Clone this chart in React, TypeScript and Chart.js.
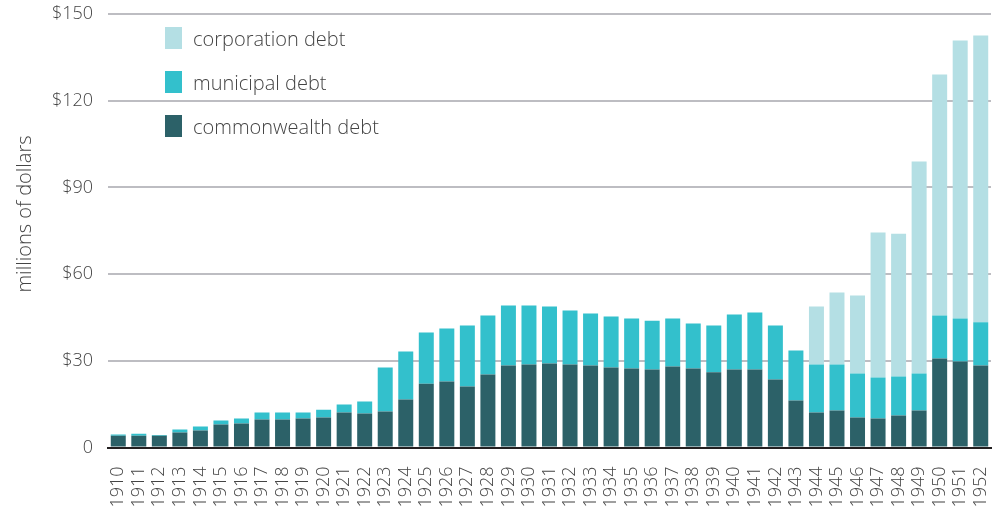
import React, { useEffect, useRef } from "react";
import { Chart, registerables } from "chart.js";

Chart.register(...registerables);

const years = [
  "1910", "1911", "1912", "1913", "1914", "1915", "1916", "1917", "1918", "1919",
  "1920", "1921", "1922", "1923", "1924", "1925", "1926", "1927", "1928", "1929",
  "1930", "1931", "1932", "1933", "1934", "1935", "1936", "1937", "1938", "1939",
  "1940", "1941", "1942", "1943", "1944", "1945", "1946", "1947", "1948", "1949",
  "1950", "1951", "1952",
];

const commonwealthDebt = [
  4.1, 4.1, 4.1, 5.2, 5.9, 8.0, 8.3, 9.7, 9.7, 10.0,
  10.4, 12.1, 11.8, 12.5, 16.6, 22.1, 22.8, 21.1, 25.3, 28.4,
  28.7, 29.1, 28.7, 28.4, 27.7, 27.3, 27.0, 28.0, 27.3, 26.0,
  27.0, 27.0, 23.5, 16.3, 12.1, 12.8, 10.4, 10.0, 11.1, 12.8,
  30.8, 29.8, 28.4,
];

const municipalDebt = [
  0.4, 0.7, 0.2, 1.0, 1.4, 1.3, 1.7, 2.4, 2.4, 2.1,
  2.7, 2.8, 4.1, 15.2, 16.6, 17.7, 18.4, 21.1, 20.4, 20.7,
  20.4, 19.7, 18.7, 18.0, 17.6, 17.3, 16.9, 16.6, 15.6, 16.2,
  19.0, 19.7, 18.7, 17.3, 16.6, 15.9, 15.2, 14.2, 13.5, 12.8,
  14.9, 14.8, 14.9,
];

const corporationDebt = [
  0, 0, 0, 0, 0, 0, 0, 0, 0, 0,
  0, 0, 0, 0, 0, 0, 0, 0, 0, 0,
  0, 0, 0, 0, 0, 0, 0, 0, 0, 0,
  0, 0, 0, 0, 20.1, 24.9, 27.0, 50.2, 49.4, 73.4,
  83.4, 96.2, 99.3,
];

const yTicks = [0, 30, 60, 90, 120, 150];
const yTitle = "millions of dollars";

const COLORS = {
  commonwealth: "#2c6168",
  municipal: "#33c0cc",
  corporation: "#b4dfe4",
};

const legendItems = [
  { label: "corporation debt", color: COLORS.corporation },
  { label: "municipal debt", color: COLORS.municipal },
  { label: "commonwealth debt", color: COLORS.commonwealth },
];

const FONT = '"Open Sans", sans-serif';
const TEXT = "#444444";

export default function App() {
  const canvasRef = useRef<HTMLCanvasElement | null>(null);

  useEffect(() => {
    if (!canvasRef.current) return;
    const yTitlePlugin = {
      id: "yTitle",
      afterDraw(chart: any) {
        const ctx = chart.ctx;
        ctx.save();
        ctx.translate(25, 214);
        ctx.rotate(-Math.PI / 2);
        ctx.textAlign = "center";
        ctx.textBaseline = "middle";
        ctx.font = `300 20px ${FONT}`;
        ctx.fillStyle = TEXT;
        ctx.fillText(yTitle, 0, 0);
        ctx.restore();
      },
    };
    const chart = new Chart(canvasRef.current, {
      type: "bar",
      data: {
        labels: years,
        datasets: [
          {
            label: "commonwealth debt",
            data: commonwealthDebt,
            backgroundColor: COLORS.commonwealth,
            barPercentage: 0.73,
            categoryPercentage: 1,
          },
          {
            label: "municipal debt",
            data: municipalDebt,
            backgroundColor: COLORS.municipal,
            barPercentage: 0.73,
            categoryPercentage: 1,
          },
          {
            label: "corporation debt",
            data: corporationDebt,
            backgroundColor: COLORS.corporation,
            barPercentage: 0.73,
            categoryPercentage: 1,
          },
        ],
      },
      options: {
        animation: false,
        responsive: true,
        maintainAspectRatio: false,
        layout: { padding: { top: 14, right: 1, left: 0, bottom: 0 } },
        plugins: {
          legend: { display: false },
          tooltip: { enabled: false },
          title: { display: false },
        },
        scales: {
          x: {
            stacked: true,
            grid: { display: false, drawTicks: false },
            border: { display: true, color: "#231f20", width: 2 },
            ticks: {
              autoSkip: false,
              maxRotation: 90,
              minRotation: 90,
              padding: 19,
              color: TEXT,
              font: { family: FONT, size: 18, weight: "300" as any },
            },
            afterFit(scale: any) {
              scale.height = 62.5;
              scale.paddingLeft = 0;
              scale.paddingRight = 0;
            },
          },
          y: {
            stacked: true,
            min: 0,
            max: 150,
            afterBuildTicks(scale: any) {
              scale.ticks = yTicks.map((v) => ({ value: v }));
            },
            grid: {
              color: "#bdbdc2",
              lineWidth: 2,
              drawTicks: false,
            },
            border: { display: false },
            ticks: {
              padding: 15,
              color: TEXT,
              font: { family: FONT, size: 18, weight: "300" as any },
              callback: (v: any) => (Number(v) === 0 ? "0" : "$" + v),
            },
            afterFit(scale: any) {
              scale.width = 108;
              scale.paddingTop = 0;
              scale.paddingBottom = 0;
            },
          },
        },
      },
      plugins: [yTitlePlugin],
    });
    return () => chart.destroy();
  }, []);

  return (
    <div
      style={{
        position: "fixed",
        left: 0,
        top: 0,
        width: 992,
        height: 510,
        background: "#fff",
      }}
    >
      <canvas ref={canvasRef} />
      {legendItems.map((item, i) => (
        <div
          key={item.label}
          style={{
            position: "absolute",
            left: 165,
            top: 27 + i * 44,
            height: 22,
            display: "flex",
            alignItems: "center",
            fontFamily: FONT,
            fontWeight: 300,
            fontSize: 20,
            color: TEXT,
            whiteSpace: "nowrap",
          }}
        >
          <span
            style={{
              display: "inline-block",
              width: 17,
              height: 22,
              background: item.color,
              marginRight: 11,
            }}
          />
          <span>{item.label}</span>
        </div>
      ))}
    </div>
  );
}
